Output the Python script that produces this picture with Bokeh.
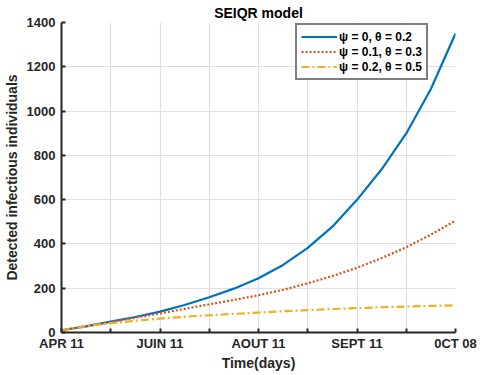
from bokeh.plotting import figure
from bokeh.models import FixedTicker, Range1d, Legend, LegendItem
from bokeh.embed import file_html
from bokeh.resources import INLINE

days = [0, 11.25, 22.5, 33.75, 45, 56.25, 67.5, 78.75, 90, 101.25, 112.5,
        123.75, 135, 146.25, 157.5, 168.75, 180]
psi0 = [10, 28, 49, 70, 94, 124, 159, 198, 245, 305, 382, 478, 599, 737, 899, 1100, 1350]
psi01 = [10, 29, 47, 67, 86, 107, 127, 147, 168, 193, 222, 255, 292, 336, 385, 442, 505]
psi02 = [10, 28, 42, 53, 63, 71, 78, 84, 90, 96, 101, 106, 110, 114, 117, 120, 123]

x_ticks = [0, 22.5, 45, 67.5, 90, 112.5, 135, 157.5, 180]
x_labels = ["APR 11", "", "JUIN 11", "", "AOUT 11", "", "SEPT 11", "", "0CT 08"]
y_ticks = [0, 200, 400, 600, 800, 1000, 1200, 1400]
labels = ["ψ = 0, θ = 0.2", "ψ = 0.1, θ = 0.3", "ψ = 0.2, θ = 0.5"]

FONT = "Liberation Sans"

p = figure(width=480, height=375, output_backend="svg", toolbar_location=None,
           x_range=Range1d(0, 180), y_range=Range1d(0, 1400),
           min_border_left=59, min_border_right=25, min_border_top=22, min_border_bottom=43)
p.title.text = "SEIQR model"
p.title.align = "center"
p.title.text_font = FONT
p.title.text_font_size = "14px"
p.title.text_font_style = "bold"
p.title.text_color = "#000000"
p.title.standoff = 3
p.outline_line_color = None

r1 = p.line(days, psi0, line_color="#0072BD", line_width=2.2)
r2 = p.line(days, psi01, line_color="#D95319", line_width=2.2, line_dash="2 2")
r3 = p.line(days, psi02, line_color="#EDB120", line_width=2.2, line_dash="8 3 2 3")

p.xaxis.ticker = FixedTicker(ticks=x_ticks)
p.xaxis.major_label_overrides = {t: l for t, l in zip(x_ticks, x_labels)}
p.yaxis.ticker = FixedTicker(ticks=y_ticks)

for ax in (p.xaxis, p.yaxis):
    ax.axis_line_color = "#262626"
    ax.axis_line_width = 2
    ax.major_tick_line_color = "#262626"
    ax.major_tick_line_width = 2
    ax.major_tick_in = 4
    ax.major_tick_out = 0
    ax.minor_tick_line_color = None
    ax.major_label_text_font = FONT
    ax.major_label_text_font_size = "13px"
    ax.major_label_text_font_style = "bold"
    ax.major_label_text_color = "#262626"
    ax.axis_label_text_font = FONT
    ax.axis_label_text_font_size = "14px"
    ax.axis_label_text_font_style = "bold"
    ax.axis_label_text_color = "#262626"

p.xaxis.axis_label = "Time(days)"
p.xaxis.major_label_standoff = 3
p.xaxis.axis_label_standoff = 1
p.yaxis.axis_label = "Detected infectious individuals"
p.yaxis.major_label_standoff = 6
p.yaxis.axis_label_standoff = 4

p.grid.grid_line_color = "#E0E0E0"
p.grid.grid_line_width = 1.2

legend = Legend(items=[LegendItem(label=labels[0], renderers=[r1]),
                       LegendItem(label=labels[1], renderers=[r2]),
                       LegendItem(label=labels[2], renderers=[r3])],
                location=(234, 252))
legend.border_line_color = "#000000"
legend.border_line_width = 2
legend.background_fill_color = "#FFFFFF"
legend.background_fill_alpha = 1
legend.label_text_font = FONT
legend.label_text_font_size = "12px"
legend.label_text_font_style = "bold"
legend.label_text_color = "#000000"
legend.glyph_width = 36
legend.glyph_height = 15
legend.label_height = 15
legend.label_standoff = 2
legend.spacing = 0
legend.padding = 4
legend.margin = 0
p.add_layout(legend)

open("out.html", "w").write(file_html(p, INLINE))
